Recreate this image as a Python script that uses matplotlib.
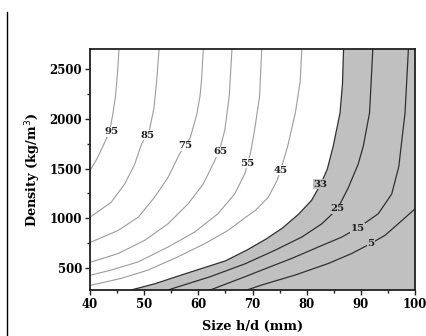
#!/usr/bin/env python3
"""
plot.py

Contour map of density vs size h/d, redrawn from read-off contour points.
"""

import matplotlib
matplotlib.use("Agg")
import matplotlib.pyplot as plt
from matplotlib.lines import Line2D
from matplotlib.ticker import MultipleLocator

# contour levels and their (size, density) points
levels = [95, 85, 75, 65, 55, 45, 33, 25, 15, 5]

c95_x = [40.0, 41.3, 42.4, 43.6, 44.25, 44.7, 45.05, 45.35]
c95_y = [1480, 1600, 1727, 1870, 2060, 2227, 2444, 2700]

c85_x = [40.0, 43.9, 46.4, 48.25, 49.5, 51.0, 51.8, 52.3, 52.74]
c85_y = [1010, 1160, 1344, 1544, 1744, 1894, 2110, 2380, 2700]

c75_x = [40.0, 45.2, 48.9, 51.9, 54.4, 56.5, 58.5, 59.7, 60.3, 60.6, 60.9]
c75_y = [755, 877, 1010, 1210, 1410, 1644, 1810, 2044, 2227, 2400, 2700]

c65_x = [40.0, 45.2, 50.1, 54.4, 58.1, 60.9, 63.0, 64.0, 64.9, 65.7, 66.2]
c65_y = [555, 644, 777, 944, 1144, 1344, 1577, 1700, 1894, 2227, 2700]

c55_x = [40.0, 43.9, 48.9, 54.4, 59.3, 63.6, 66.7, 68.6, 69.6, 70.4, 71.3, 71.7]
c55_y = [425, 477, 560, 710, 860, 1044, 1244, 1450, 1650, 1894, 2227, 2700]

c45_x = [40.0, 45.8, 50.7, 56.2, 61.2, 65.5, 68.6, 70.5, 72.9, 74.5, 75.2, 76.5, 77.9, 78.8, 79.1]
c45_y = [322, 394, 477, 610, 744, 877, 1004, 1077, 1210, 1377, 1484, 1727, 2060, 2377, 2700]

c33_x = [47.6, 52.0, 57.0, 61.0, 65.0, 69.0, 72.5, 75.5, 78.5, 80.9, 82.6, 83.8, 84.9, 86.15, 86.6, 86.8]
c33_y = [277, 340, 430, 500, 570, 680, 790, 900, 1040, 1180, 1344, 1494, 1727, 2060, 2350, 2700]

c25_x = [54.4, 62.15, 68.6, 74.15, 79.1, 82.8, 85.7, 87.7, 89.5, 90.45, 91.6, 92.2]
c25_y = [277, 410, 540, 677, 810, 944, 1094, 1310, 1544, 1727, 2060, 2700]

c15_x = [62.2, 68.6, 71.7, 77.2, 82.15, 86.5, 89.4, 93.2, 95.7, 97.0, 98.15, 98.77]
c15_y = [277, 410, 477, 594, 710, 810, 900, 1044, 1244, 1520, 2060, 2700]

c5_x = [69.0, 71.7, 77.85, 84.0, 88.3, 91.8, 94.45, 96.9, 100.0]
c5_y = [277, 327, 427, 544, 644, 744, 827, 944, 1094]

# where each contour label sits
label_x = [43.9, 50.7, 57.5, 64.0, 69.1, 75.2, 82.6, 85.7, 89.4, 91.8]
label_y = [1870, 1834, 1727, 1667, 1554, 1484, 1344, 1094, 900, 744]

x_ticks = [40, 50, 60, 70, 80, 90, 100]
y_ticks = [500, 1000, 1500, 2000, 2500]

curves_x = [c95_x, c85_x, c75_x, c65_x, c55_x, c45_x, c33_x, c25_x, c15_x, c5_x]
curves_y = [c95_y, c85_y, c75_y, c65_y, c55_y, c45_y, c33_y, c25_y, c15_y, c5_y]

FILL = "#c0c0c0"
LIGHT = "#9c9c9c"
DARK = "#303030"
SERIF = ["DejaVu Serif"]


def main():
    fig = plt.figure(figsize=(4.26, 3.36), dpi=100)
    ax = fig.add_axes([0.2113, 0.137, 0.763, 0.716])

    xmin, xmax = 40, 100
    ymin, ymax = 277, 2700

    # grey region to the right of / below the 33 contour
    poly_x = c33_x + [xmax, xmax]
    poly_y = c33_y + [ymax, ymin]
    ax.fill(poly_x, poly_y, color=FILL, lw=0, zorder=1)

    for lev, xs, ys, lx, ly in zip(levels, curves_x, curves_y, label_x, label_y):
        dark = lev <= 33
        ax.plot(xs, ys, color=DARK if dark else LIGHT,
                lw=0.9 if dark else 0.8, zorder=2)
        ax.text(lx, ly, str(lev), ha="center", va="center", fontsize=7.3,
                fontweight="bold", family=SERIF, color="#202020", zorder=3,
                bbox=dict(boxstyle="square,pad=0.05",
                          fc=FILL if dark else "white", ec="none"))

    ax.set_xlim(xmin, xmax)
    ax.set_ylim(ymin, ymax)
    ax.set_xticks(x_ticks)
    ax.set_yticks(y_ticks)
    ax.xaxis.set_minor_locator(MultipleLocator(5))
    ax.yaxis.set_minor_locator(MultipleLocator(250))
    ax.tick_params(which="both", direction="out", top=False, right=False,
                   width=1.0, color="#202020")
    ax.tick_params(which="major", length=3.5, labelsize=8.5, pad=2)
    ax.tick_params(which="minor", length=2)
    for lab in ax.get_xticklabels() + ax.get_yticklabels():
        lab.set_family(SERIF)
        lab.set_fontweight("bold")
    for sp in ax.spines.values():
        sp.set_linewidth(1.3)
        sp.set_color("#202020")

    ax.set_xlabel("Size h/d (mm)", fontsize=9.3, fontweight="bold",
                  family=SERIF, labelpad=7)
    ax.set_ylabel("Density (kg/m$^3$)", fontsize=9.3, fontweight="bold",
                  family=SERIF, labelpad=5)

    # thin border line at the left edge of the picture
    fig.add_artist(Line2D([7 / 426, 7 / 426], [0, 1 - 12 / 336],
                          transform=fig.transFigure, color="black", lw=1.0))

    fig.savefig("out.png", dpi=100)


if __name__ == "__main__":
    main()
